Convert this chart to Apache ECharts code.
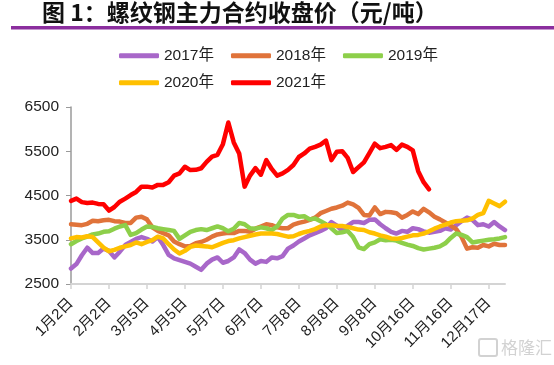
<!DOCTYPE html>
<html><head><meta charset="utf-8">
<script src="https://cdn.jsdelivr.net/npm/echarts@6/dist/echarts.min.js"></script>
<style>html,body{margin:0;padding:0;background:#fff;}#c{width:554px;height:365px;}</style>
</head><body><div id="c"></div>
<script>
const tickLabels = ['1月2日','2月2日','3月5日','4月5日','5月7日','6月7日','7月8日','8月8日','9月8日','10月16日','11月16日','12月17日'];
const seriesNames = ['2017年','2018年','2019年','2020年','2021年'];
const y2017 = [2850,2950,3150,3320,3200,3200,3300,3250,3100,3230,3380,3450,3520,3560,3520,3460,3560,3380,3160,3080,3040,
  3000,2960,2890,2820,2960,3050,3100,2980,3020,3100,3280,3200,3050,2960,3020,3000,3100,3080,3130,3300,
  3370,3460,3530,3600,3650,3700,3760,3900,3820,3700,3820,3900,3900,3880,3950,3960,3850,3760,3680,3640,
  3700,3680,3760,3740,3690,3660,3680,3700,3760,3730,3830,3920,4000,3950,3830,3850,3800,3900,3800,3720];
const y2018 = [3850,3840,3830,3860,3930,3920,3940,3950,3920,3910,3880,3880,4000,4020,3960,3780,3700,3650,3600,3460,3400,
  3350,3360,3420,3450,3500,3570,3620,3640,3660,3650,3700,3700,3680,3750,3800,3850,3830,3780,3760,3760,
  3840,3880,3910,3950,4000,4100,4150,4200,4230,4270,4340,4300,4220,4060,4050,4230,4080,4130,4120,4100,
  4000,4060,4140,4080,4200,4120,4020,3960,3890,3820,3740,3560,3300,3330,3320,3380,3350,3410,3380,3380];
const y2019 = [3400,3470,3530,3570,3620,3640,3680,3690,3750,3800,3830,3610,3650,3730,3800,3790,3760,3740,3720,3700,3520,
  3600,3680,3720,3740,3720,3760,3800,3760,3690,3750,3880,3850,3760,3750,3780,3760,3720,3800,3980,4060,
  4060,4020,4030,3960,3980,3920,3850,3760,3650,3670,3700,3560,3330,3290,3400,3440,3510,3490,3500,3480,
  3430,3390,3360,3310,3280,3300,3320,3350,3420,3540,3640,3610,3560,3440,3460,3480,3500,3510,3530,3560];
const y2020 = [3530,3560,3550,3580,3560,3440,3320,3240,3270,3320,3350,3380,3440,3400,3450,3490,3570,3530,3400,3280,3190,
  3250,3340,3370,3360,3350,3330,3380,3430,3470,3490,3530,3560,3590,3620,3640,3640,3640,3630,3600,3570,
  3580,3630,3670,3700,3740,3800,3830,3830,3810,3810,3790,3760,3730,3720,3670,3640,3600,3570,3530,3520,
  3540,3570,3600,3610,3640,3690,3750,3800,3840,3890,3920,3930,3940,3980,4060,4100,4380,4320,4260,4360];
const y2021 = [4380,4430,4350,4330,4340,4310,4300,4160,4240,4360,4430,4510,4580,4700,4700,4680,4740,4740,4800,4950,5000,
  5150,5075,5080,5115,5260,5380,5420,5660,6150,5700,5450,4700,4950,5120,4970,5300,5100,4950,5000,5080,
  5190,5370,5450,5560,5600,5650,5740,5300,5490,5500,5350,5030,5140,5250,5460,5670,5570,5600,5640,5530,
  5650,5600,5520,5050,4800,4640];
const colors = ['#A867C9','#E0733A','#8DCF4A','#FFC000','#FF0000'];
const step = 7;
const nPts = y2017.length;
const categories = [];
for (let i = 0; i < nPts; i++) categories.push(i % step === 0 ? (tickLabels[i / step] || '') : '');
const values = [y2017, y2018, y2019, y2020, y2021];

const font = '"Liberation Sans","Noto Sans CJK SC",sans-serif';
const chart = echarts.init(document.getElementById('c'), null, {renderer: 'canvas'});
chart.setOption({
  animation: false,
  backgroundColor: '#fff',
  color: colors,
  graphic: [
    {type: 'text', left: 42, top: 1, style: {text: '图 1：螺纹钢主力合约收盘价（元/吨）', font: 'bold 23px "Noto Sans CJK SC"', fill: '#111'}},
    {type: 'rect', shape: {x: 11, y: 26, width: 543, height: 3.5}, style: {fill: '#8B2E9E'}},
    {type: 'rect', shape: {x: 479, y: 339, width: 18, height: 17, r: 2}, style: {fill: 'none', stroke: '#d2d2d2', lineWidth: 2}},
    {type: 'text', left: 501, top: 339, style: {text: '格隆汇', font: '17px "Noto Sans CJK SC"', fill: '#d2d2d2'}}
  ],
  legend: [
    {data: seriesNames.slice(0, 3), left: 114, top: 43, itemWidth: 40, itemHeight: 5, itemGap: 17, icon: 'roundRect',
     textStyle: {fontSize: 15.5, color: '#222', fontFamily: font}},
    {data: seriesNames.slice(3), left: 114, top: 70, itemWidth: 40, itemHeight: 5, itemGap: 17, icon: 'roundRect',
     textStyle: {fontSize: 15.5, color: '#222', fontFamily: font}}
  ],
  grid: {left: 71, right: 49, top: 107, bottom: 81, containLabel: false},
  xAxis: {
    type: 'category', data: categories, boundaryGap: false,
    axisLine: {lineStyle: {color: '#d4d4d4', width: 2}},
    axisTick: {interval: step - 1, length: 5, lineStyle: {color: '#d4d4d4', width: 1.5}},
    axisLabel: {interval: step - 1, rotate: 45, fontSize: 15, color: '#222', fontFamily: font, margin: 17},
    splitLine: {show: false}
  },
  yAxis: {
    type: 'value', min: 2500, max: 6500, interval: 1000,
    axisLine: {show: true, lineStyle: {color: '#9a9a9a', width: 1.5}},
    axisTick: {show: true, length: 5, lineStyle: {color: '#9a9a9a'}},
    axisLabel: {fontSize: 15.5, color: '#222', fontFamily: font, margin: 12, formatter: v => String(v)},
    splitLine: {show: false}
  },
  series: seriesNames.map((n, k) => ({
    name: n, type: 'line', data: values[k], showSymbol: false, smooth: false,
    lineStyle: {width: 4.5, color: colors[k], cap: 'round', join: 'round'},
    itemStyle: {color: colors[k]}, z: 2 + k
  }))
});
</script></body></html>
